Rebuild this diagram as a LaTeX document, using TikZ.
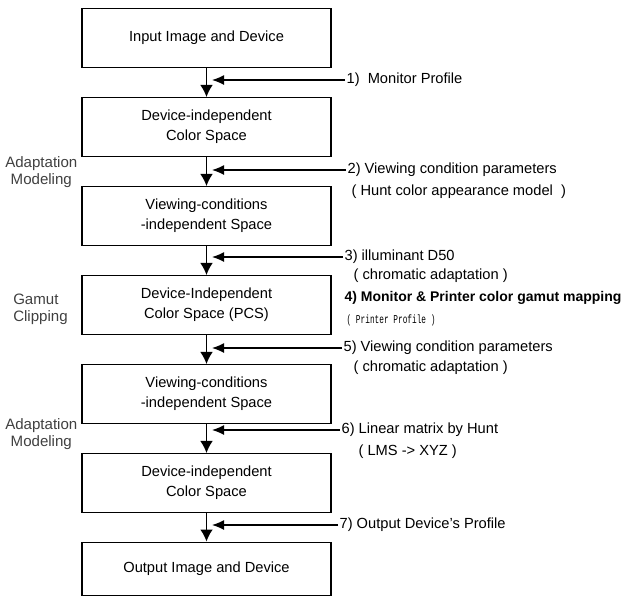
\documentclass[tikz,border=0pt]{standalone}
\usepackage{fontspec}
\setmainfont{Liberation Sans}
\newfontfamily\monofont[FakeStretch=0.65]{Liberation Mono}
\usetikzlibrary{arrows.meta,positioning,calc}

\begin{document}
\begin{tikzpicture}[
    x=0.75pt, y=-0.75pt,
    node distance=66.75pt,
    stage/.style={rectangle,draw,line width=0.8pt,minimum width=186.75pt,minimum height=44.25pt,align=center,font=\fontsize{11}{15}\selectfont},
    note/.style={anchor=west,inner sep=1pt,font=\fontsize{11}{13}\selectfont},
    boldnote/.style={note,font=\fontsize{10.5}{13}\selectfont\bfseries},
    mononote/.style={note,font=\fontsize{9}{10}\selectfont\monofont},
    phase/.style={anchor=west,inner sep=0pt,text=black!75,font=\fontsize{11.3}{13}\selectfont},
    flow/.style={-{Latex[length=9pt,width=9.5pt]},line width=1pt},
    feed/.style={-{Latex[length=9pt,width=7.5pt]},line width=1pt}
]
    \useasboundingbox (0,0) rectangle (625,597);

    % Stages
    \node[stage] (input) at (206.5,38) {Input Image and Device};
    \node[stage] (dics1) [below of=input] {Device-independent\\Color Space};
    \node[stage] (vcis1) [below of=dics1] {Viewing-conditions\\-independent Space};
    \node[stage] (pcs) [below of=vcis1] {Device-Independent\\Color Space (PCS)};
    \node[stage] (vcis2) [below of=pcs] {Viewing-conditions\\-independent Space};
    \node[stage] (dics2) [below of=vcis2] {Device-independent\\Color Space};
    \node[stage,minimum height=39.75pt] (output) [below of=dics2,yshift=2.6pt] {Output Image and Device};

    % Phases
    \node[phase,align=center] (adapt1) at (5,172) {Adaptation\\Modeling};
    \node[phase,align=left] (gamut) at (13,309) {Gamut\\Clipping};
    \node[phase,align=center] (adapt2) at (5,434) {Adaptation\\Modeling};

    % Notes
    \coordinate (tip) at (212,0);
    \node[note] (n1) at (345,80) {1)\ \ Monitor Profile};
    \node[note] (n2) at (346,170) {2) Viewing condition parameters};
    \node[note] (n2b) at (350,192) {( Hunt color appearance model\ \ )};
    \node[note] (n3) at (343,257) {3) illuminant D50};
    \node[note] (n3b) at (352,276) {( chromatic adaptation )};
    \node[boldnote] (n4) at (343,298) {4) Monitor \& Printer color gamut mapping};
    \node[mononote] (n4b) at (345,320) {( Printer Profile )};
    \node[note] (n5) at (342,348) {5) Viewing condition parameters};
    \node[note] (n5b) at (352,368) {( chromatic adaptation )};
    \node[note] (n6) at (340,430) {6) Linear matrix by Hunt};
    \node[note] (n6b) at (357,452) {( LMS -> XYZ )};
    \node[note] (n7) at (338,525) {7) Output Device's Profile};

    % Flow
    \draw[flow] (input) -- (dics1);
    \draw[flow] (dics1) -- (vcis1);
    \draw[flow] (vcis1) -- (pcs);
    \draw[flow] (pcs) -- (vcis2);
    \draw[flow] (vcis2) -- (dics2);
    \draw[flow] (dics2) -- (output);

    % Inputs
    \draw[feed] (n1.west) -- (n1.west -| tip);
    \draw[feed] (n2.west) -- (n2.west -| tip);
    \draw[feed] (n3.west) -- (n3.west -| tip);
    \draw[feed] (n5.west) -- (n5.west -| tip);
    \draw[feed] (n6.west) -- (n6.west -| tip);
    \draw[feed] (n7.west) -- (n7.west -| tip);
\end{tikzpicture}
\end{document}
